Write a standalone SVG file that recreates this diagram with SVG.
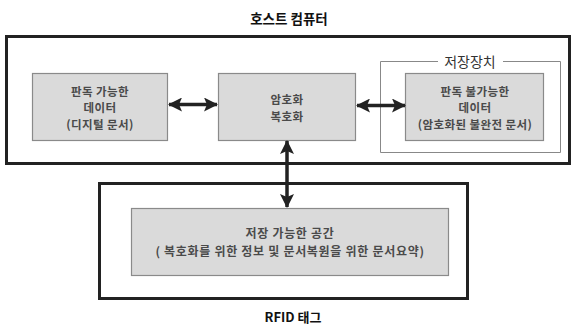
<svg xmlns="http://www.w3.org/2000/svg" width="571" height="326" viewBox="0 0 571 326">
<defs>
<style>
.frame{fill:none;stroke:#222;stroke-width:3}
.box{fill:#dadada;stroke:#8a8a8a;stroke-width:1.2}
.store{fill:#fff;stroke:#888;stroke-width:1}
.t{font-family:"Noto Sans CJK KR","Noto Sans",sans-serif;font-size:11.5px;letter-spacing:0.4px;font-weight:bold;fill:#4a4a4a;text-anchor:middle}
.b{font-size:12px;letter-spacing:0.7px}
.h{font-family:"Noto Sans CJK KR","Noto Sans",sans-serif;font-size:13.5px;font-weight:bold;fill:#111;text-anchor:middle}
.s{font-family:"Noto Sans CJK KR","Noto Sans",sans-serif;font-size:14px;fill:#333;text-anchor:middle}
.c{stroke:#222;stroke-width:3.5;fill:none}
</style>
<marker id="ah" viewBox="0 0 14 14" refX="13" refY="7" markerWidth="14" markerHeight="14" markerUnits="userSpaceOnUse" orient="auto-start-reverse">
<path d="M0,0 L14,7 L0,14 L3,7 Z" fill="#222"/>
</marker>
</defs>
<rect width="571" height="326" fill="#fff"/>
<g id="host">
<rect class="frame" x="6.5" y="36.5" width="563" height="127"/>
<text class="h" x="289" y="24">호스트 컴퓨터</text>
</g>
<g id="storage">
<path class="store" d="M438,61.5 H380.5 V152.5 H560.5 V61.5 H503"/>
<text class="s" x="470" y="67">저장장치</text>
</g>
<g id="readable">
<rect class="box" x="32.5" y="73.5" width="135" height="67"/>
<text class="t"><tspan x="100" y="95.7">판독 가능한</tspan><tspan x="100" y="112.4">데이터</tspan><tspan x="100" y="129.1">(디지털 문서)</tspan></text>
</g>
<g id="crypto">
<rect class="box" x="218.5" y="73.5" width="137" height="67"/>
<text class="t"><tspan x="287" y="104.4">암호화</tspan><tspan x="287" y="121.1">복호화</tspan></text>
</g>
<g id="unreadable">
<rect class="box" x="405.5" y="73.5" width="138" height="67"/>
<text class="t"><tspan x="475" y="95.7">판독 불가능한</tspan><tspan x="475" y="112.4">데이터</tspan><tspan x="475" y="129.1">(암호화된 불완전 문서)</tspan></text>
</g>
<g id="rfid">
<rect class="frame" x="99.5" y="183.5" width="368" height="115"/>
<text class="h" x="293" y="322" style="font-size:13px">RFID 태그</text>
</g>
<g id="space">
<rect class="box" x="131.5" y="208.5" width="317" height="67"/>
<text class="t b"><tspan x="290" y="238.2">저장 가능한 공간</tspan><tspan x="290" y="255.7">( 복호화를 위한 정보 및 문서복원을 위한 문서요약)</tspan></text>
</g>
<g id="connectors">
<line class="c" x1="169" y1="104.5" x2="217" y2="104.5" marker-start="url(#ah)" marker-end="url(#ah)"/>
<line class="c" x1="357" y1="105.5" x2="405" y2="105.5" marker-start="url(#ah)" marker-end="url(#ah)"/>
<line class="c" x1="287" y1="141" x2="287" y2="207" marker-start="url(#ah)" marker-end="url(#ah)"/>
</g>
</svg>
